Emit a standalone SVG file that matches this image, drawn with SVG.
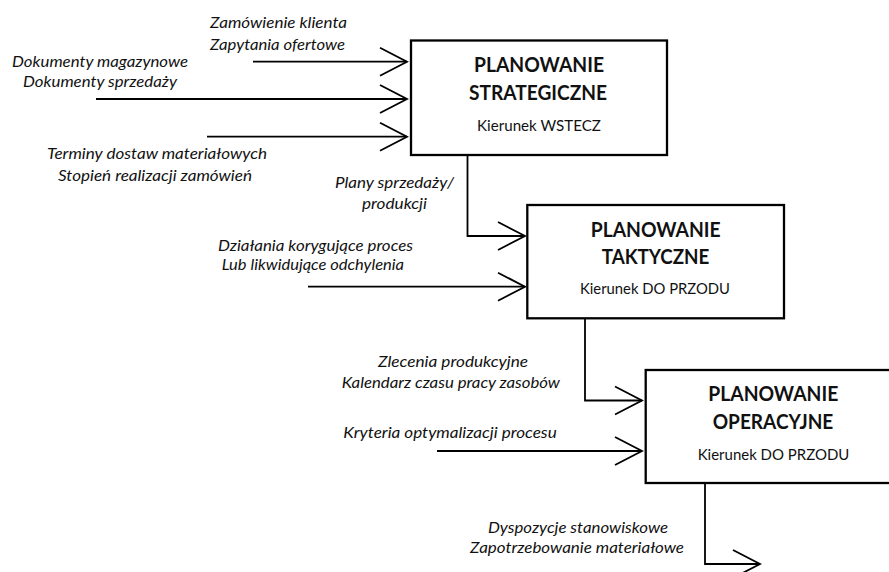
<svg xmlns="http://www.w3.org/2000/svg" width="889" height="572" viewBox="0 0 889 572">
<style>
.box{fill:#fff;stroke:#000;stroke-width:2.3}
.ln{fill:none;stroke:#000;stroke-width:1.8}
.lbl{font-family:Lato,"Liberation Sans",sans-serif;font-style:italic;font-size:14.5px;fill:#111}
.ttl{font-family:Lato,"Liberation Sans",sans-serif;font-weight:bold;font-size:20px;fill:#111;text-anchor:middle}
.sub{font-family:Lato,"Liberation Sans",sans-serif;font-size:15px;fill:#111;text-anchor:middle}
</style>
<defs>
<marker id="arr" markerUnits="userSpaceOnUse" viewBox="-30 -16 32 32" refX="0" refY="0" markerWidth="32" markerHeight="32" orient="auto" overflow="visible">
<path d="M-27,-14 L0,0 L-27,14" fill="none" stroke="#000" stroke-width="1.8"/>
</marker>
</defs>
<rect width="889" height="572" fill="#fff"/>

<g id="connectors">
<path class="ln" d="M253,61.7 H407" marker-end="url(#arr)"/>
<path class="ln" d="M96,99 H407" marker-end="url(#arr)"/>
<path class="ln" d="M207,136.7 H407" marker-end="url(#arr)"/>
<path class="ln" d="M467.5,155 V236 H525" marker-end="url(#arr)"/>
<path class="ln" d="M308,286.7 H525" marker-end="url(#arr)"/>
<path class="ln" d="M585,318 V400.5 H642" marker-end="url(#arr)"/>
<path class="ln" d="M437,451 H642" marker-end="url(#arr)"/>
<path class="ln" d="M705,483 V564 H760" marker-end="url(#arr)"/>
</g>

<g id="labels">
<text class="lbl" x="210" y="28" textLength="137" lengthAdjust="spacingAndGlyphs">Zamówienie klienta</text>
<text class="lbl" x="210" y="50" textLength="135" lengthAdjust="spacingAndGlyphs">Zapytania ofertowe</text>
<text class="lbl" x="12" y="66.7" textLength="176" lengthAdjust="spacingAndGlyphs">Dokumenty magazynowe</text>
<text class="lbl" x="23" y="87.3" textLength="154" lengthAdjust="spacingAndGlyphs">Dokumenty sprzedaży</text>
<text class="lbl" x="47" y="159.3" textLength="220" lengthAdjust="spacingAndGlyphs">Terminy dostaw materiałowych</text>
<text class="lbl" x="58" y="180.7" textLength="194" lengthAdjust="spacingAndGlyphs">Stopień realizacji zamówień</text>
<text class="lbl" x="335" y="188.3" textLength="119" lengthAdjust="spacingAndGlyphs">Plany sprzedaży/</text>
<text class="lbl" x="362" y="209.3" textLength="65" lengthAdjust="spacingAndGlyphs">produkcji</text>
<text class="lbl" x="218" y="250.7" textLength="195" lengthAdjust="spacingAndGlyphs">Działania korygujące proces</text>
<text class="lbl" x="221.7" y="270" textLength="182.3" lengthAdjust="spacingAndGlyphs">Lub likwidujące odchylenia</text>
<text class="lbl" x="378" y="366.7" textLength="150" lengthAdjust="spacingAndGlyphs">Zlecenia produkcyjne</text>
<text class="lbl" x="341.7" y="388.3" textLength="218.3" lengthAdjust="spacingAndGlyphs">Kalendarz czasu pracy zasobów</text>
<text class="lbl" x="343.3" y="438.3" textLength="213.4" lengthAdjust="spacingAndGlyphs">Kryteria optymalizacji procesu</text>
<text class="lbl" x="488" y="533.3" textLength="180" lengthAdjust="spacingAndGlyphs">Dyspozycje stanowiskowe</text>
<text class="lbl" x="470" y="553.3" textLength="214" lengthAdjust="spacingAndGlyphs">Zapotrzebowanie materiałowe</text>
</g>

<g id="strategiczne">
<rect class="box" x="411" y="40.5" width="256" height="114.5"/>
<text class="ttl" x="539" y="71.7" textLength="130" lengthAdjust="spacingAndGlyphs">PLANOWANIE</text>
<text class="ttl" x="538" y="100" textLength="138" lengthAdjust="spacingAndGlyphs">STRATEGICZNE</text>
<text class="sub" x="539" y="131" textLength="124" lengthAdjust="spacingAndGlyphs">Kierunek WSTECZ</text>
</g>

<g id="taktyczne">
<rect class="box" x="527.3" y="205" width="256.7" height="113.3"/>
<text class="ttl" x="655.7" y="236.7" textLength="130" lengthAdjust="spacingAndGlyphs">PLANOWANIE</text>
<text class="ttl" x="655.5" y="264" textLength="107.6" lengthAdjust="spacingAndGlyphs">TAKTYCZNE</text>
<text class="sub" x="655" y="294.3" textLength="150" lengthAdjust="spacingAndGlyphs">Kierunek DO PRZODU</text>
</g>

<g id="operacyjne">
<rect class="box" x="645.7" y="370" width="256.3" height="113"/>
<text class="ttl" x="773.3" y="400.7" textLength="130" lengthAdjust="spacingAndGlyphs">PLANOWANIE</text>
<text class="ttl" x="773" y="429" textLength="120.6" lengthAdjust="spacingAndGlyphs">OPERACYJNE</text>
<text class="sub" x="773.5" y="460" textLength="151.6" lengthAdjust="spacingAndGlyphs">Kierunek DO PRZODU</text>
</g>
</svg>
